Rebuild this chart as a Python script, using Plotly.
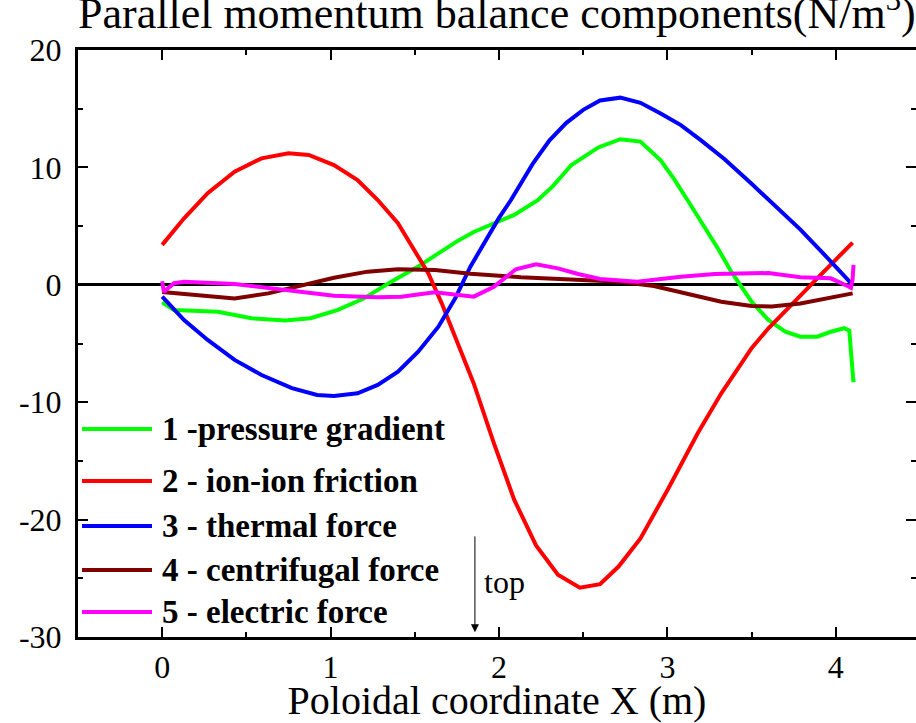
import plotly.graph_objects as go

# ---- data ----
x_pressure = [0, 0.07, 0.33, 0.53, 0.73, 0.88, 1.04, 1.2, 1.36, 1.52, 1.64, 1.75, 1.85, 1.97, 2.09,
              2.23, 2.32, 2.43, 2.59, 2.72, 2.84, 2.96, 3.04, 3.12, 3.22, 3.3, 3.38, 3.5, 3.6, 3.7,
              3.79, 3.89, 3.97, 4.05, 4.08, 4.09, 4.105]
y_pressure = [-1.5, -2.15, -2.3, -2.85, -3.05, -2.85, -2.15, -1.15, 0.27, 1.55, 2.68, 3.7, 4.5, 5.24, 5.95,
              7.2, 8.4, 10.2, 11.7, 12.4, 12.2, 10.6, 9.0, 7.2, 5.0, 3.1, 1.1, -1.44, -3.0, -4.0,
              -4.42, -4.42, -4.0, -3.7, -3.9, -5.4, -8.3]

x_friction = [0, 0.13, 0.27, 0.43, 0.59, 0.75, 0.87, 1.02, 1.16, 1.28, 1.4, 1.5, 1.58, 1.66, 1.74,
              1.85, 1.97, 2.09, 2.22, 2.35, 2.48, 2.6, 2.71, 2.84, 3.0, 3.18, 3.32, 3.42, 3.5,
              3.6, 3.7, 3.79, 3.9, 4.0, 4.1]
y_friction = [3.4, 5.66, 7.8, 9.64, 10.77, 11.2, 11.06, 10.2, 8.93, 7.22, 5.24, 2.96, 0.98, -1.58, -4.5,
              -8.4, -13.5, -18.3, -22.2, -24.7, -25.8, -25.5, -24.0, -21.6, -17.5, -12.65, -9.24, -7.1, -5.4,
              -3.7, -2.2, -0.87, 0.7, 2.15, 3.59]

x_thermal = [0, 0.13, 0.27, 0.43, 0.59, 0.77, 0.92, 1.02, 1.16, 1.28, 1.4, 1.52, 1.64, 1.74, 1.83,
             2.0, 2.07, 2.2, 2.3, 2.4, 2.5, 2.6, 2.72, 2.84, 2.96, 3.08, 3.2, 3.34, 3.5, 3.65,
             3.79, 3.95, 4.09]
y_thermal = [-1.0, -3.0, -4.7, -6.4, -7.68, -8.8, -9.39, -9.47, -9.24, -8.53, -7.4, -5.7, -3.57, -1.15, 1.54,
             5.7, 7.2, 10.3, 12.3, 13.8, 14.9, 15.7, 15.94, 15.5, 14.6, 13.6, 12.3, 10.7, 8.6, 6.6,
             4.7, 2.3, 0.15]

x_centrifugal = [0, 0.2, 0.43, 0.63, 0.83, 1.02, 1.22, 1.4, 1.62, 1.83, 2.13, 2.43, 2.72, 2.92, 3.12,
                 3.32, 3.5, 3.62, 3.79, 3.95, 4.1]
y_centrifugal = [-0.62, -0.9, -1.17, -0.73, -0.02, 0.6, 1.12, 1.32, 1.26, 0.95, 0.64, 0.41, 0.26, -0.1, -0.73,
                 -1.44, -1.8, -1.85, -1.6, -1.15, -0.73]

x_electric = [0, 0.01, 0.07, 0.13, 0.43, 0.73, 1.02, 1.28, 1.42, 1.54, 1.62, 1.85, 1.97, 2.1, 2.22,
              2.35, 2.47, 2.6, 2.82, 3.08, 3.28, 3.5, 3.6, 3.79, 3.97, 4.07, 4.09, 4.1, 4.105]
y_electric = [0.3, -0.6, 0.13, 0.25, 0.07, -0.44, -0.93, -1.07, -1.01, -0.78, -0.64, -1.01, -0.16, 1.32, 1.74,
              1.4, 0.92, 0.49, 0.27, 0.69, 0.92, 0.98, 1.0, 0.64, 0.55, -0.1, -0.25, 0.5, 1.7]

series_names = ["1 -pressure gradient", "2 - ion-ion friction", "3 - thermal force",
                "4 - centrifugal force", "5 - electric force"]
series_colors = ["#00FF00", "#FF0000", "#0000FF", "#800000", "#FF00FF"]

x_ticks = [0, 1, 2, 3, 4]
x_ticklabels = ["0", "1", "2", "3", "4"]
y_ticks = [-30, -20, -10, 0, 10, 20]
y_ticklabels = ["-30", "-20", "-10", "0", "10", "20"]

title_text = "Parallel momentum balance components(N/m<sup>3</sup>)"
x_title = "Poloidal coordinate X (m)"

# ---- figure ----
W, H = 916, 723
ML, MT, MB = 78, 50, 86
plot_w = W - ML
plot_h = H - MT - MB

fig = go.Figure()
xs = [x_pressure, x_friction, x_thermal, x_centrifugal, x_electric]
ys = [y_pressure, y_friction, y_thermal, y_centrifugal, y_electric]
for xv, yv, nm, c in zip(xs, ys, series_names, series_colors):
    fig.add_trace(go.Scatter(x=xv, y=yv, mode="lines", name=nm,
                             line=dict(color=c, width=4), showlegend=False))

# dummy trace for right-side mirror ticks
fig.add_trace(go.Scatter(x=[None], y=[None], yaxis="y2", showlegend=False))

FONT = "Liberation Serif"
xr = [-0.5, -0.5 + 5 * plot_w / 842.0]

fig.update_layout(
    width=W, height=H,
    margin=dict(l=ML, r=0, t=MT, b=MB, pad=0),
    paper_bgcolor="white", plot_bgcolor="white",
    font=dict(family=FONT, color="black"),
    xaxis=dict(range=xr, tickvals=x_ticks, ticktext=x_ticklabels, ticks="inside", ticklen=10,
               tickwidth=2, tickcolor="black", showline=True, linewidth=3, linecolor="black",
               mirror="ticks", showgrid=False, zeroline=False, tickfont=dict(size=32, family=FONT),
               minor=dict(dtick=0.5, ticks="inside", ticklen=5, tickwidth=2, tickcolor="black"),
               ticklabelstandoff=0,
               title=dict(text=x_title, font=dict(size=40, family=FONT), standoff=7)),
    yaxis=dict(range=[-30, 20], tickvals=y_ticks, ticktext=y_ticklabels, ticks="inside", ticklen=10,
               tickwidth=2, tickcolor="black", showline=True, linewidth=3, linecolor="black",
               mirror=False, showgrid=False, zeroline=True, zerolinecolor="black", zerolinewidth=3,
               tickfont=dict(size=32, family=FONT),
               minor=dict(dtick=5, ticks="inside", ticklen=5, tickwidth=2, tickcolor="black"),
               ticklabelstandoff=7),
    yaxis2=dict(range=[-30, 20], overlaying="y", side="right", tickvals=y_ticks, ticks="inside",
                ticklen=10, tickwidth=2, tickcolor="black", showticklabels=False, showline=False,
                showgrid=False, zeroline=False,
                minor=dict(dtick=5, ticks="inside", ticklen=5, tickwidth=2, tickcolor="black")),
)

# title (partially cut off at top as in reference)
fig.add_annotation(text=title_text, xref="paper", yref="paper", x=0.5, y=1.0,
                   xanchor="center", yanchor="bottom", yshift=10, showarrow=False,
                   font=dict(size=44, family=FONT))

# manual legend
def px_to_paper(px, py):
    return (px - ML) / plot_w, (H - MB - py) / plot_h

legend_rows = [429, 481, 526, 570, 612]
for nm, c, py in zip(series_names, series_colors, legend_rows):
    x0, y0 = px_to_paper(82, py)
    x1, _ = px_to_paper(152, py)
    fig.add_shape(type="line", xref="paper", yref="paper", x0=x0, x1=x1, y0=y0, y1=y0,
                  line=dict(color=c, width=4))
    tx, _ = px_to_paper(160, py)
    fig.add_annotation(text="<b>" + nm + "</b>", xref="paper", yref="paper", x=tx, y=y0,
                       xanchor="left", yanchor="middle", showarrow=False,
                       font=dict(size=33, family=FONT))

# "top" arrow
arrow_x = 1.857
fig.add_annotation(x=arrow_x, y=-29.6, ax=arrow_x, ay=-21.3, xref="x", yref="y",
                   axref="x", ayref="y", showarrow=True, arrowhead=2, arrowsize=1.6,
                   arrowwidth=1, arrowcolor="black", text="")
fig.add_annotation(x=1.9, y=-25.3, xref="x", yref="y", text="top", showarrow=False,
                   xanchor="left", yanchor="middle", font=dict(size=32, family=FONT))

fig.write_html("out.html")
